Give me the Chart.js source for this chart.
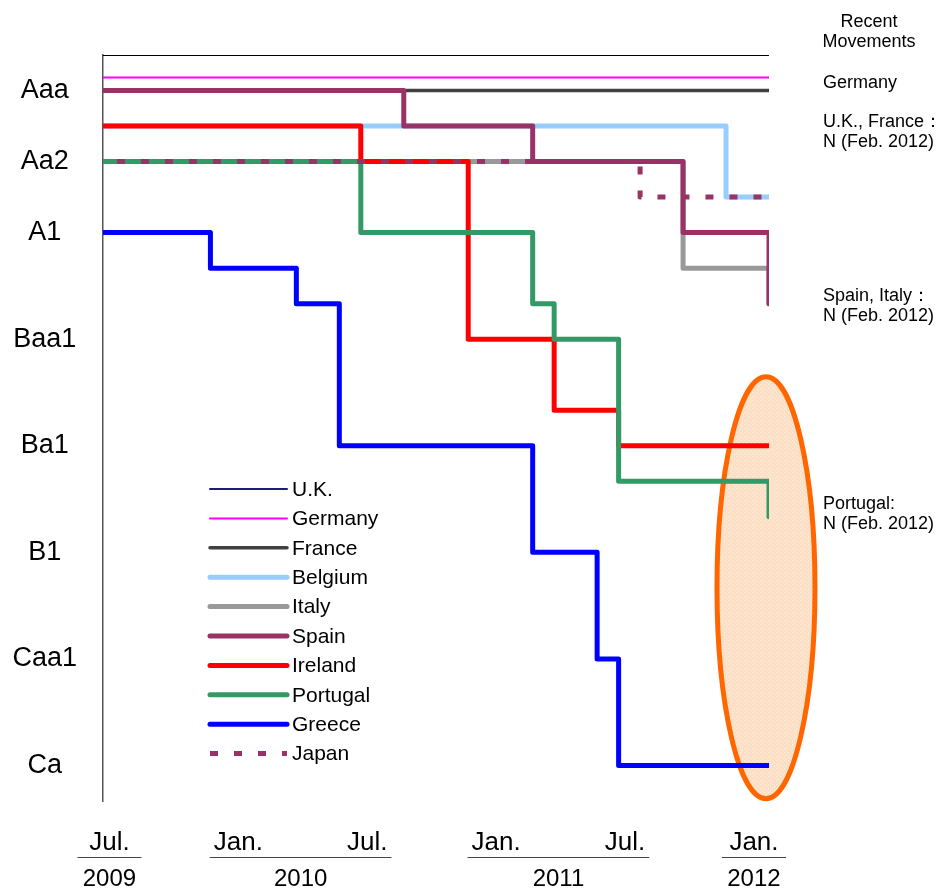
<!DOCTYPE html>
<html>
<head>
<meta charset="utf-8">
<title>Sovereign ratings (Moody's)</title>
<script src="https://cdn.jsdelivr.net/npm/chart.js@4.4.1/dist/chart.umd.min.js"></script>
<style>
  html, body { margin: 0; padding: 0; background: #fff; }
  #wrap { width: 939px; height: 889px; position: relative; }
  canvas { display: block; }
</style>
</head>
<body>
<div id="wrap"><canvas id="chart" width="939" height="889"></canvas></div>
<script>
// Moody's long-term rating scale, best to worst (notch 1 = Aaa)
const RATING_SCALE = ["Aaa","Aa1","Aa2","Aa3","A1","A2","A3","Baa1","Baa2","Baa3",
                      "Ba1","Ba2","Ba3","B1","B2","B3","Caa1","Caa2","Caa3","Ca","C"];

// Monthly observations, Jul. 2009 - Feb. 2012
const MONTHS = [
  "2009-07","2009-08","2009-09","2009-10","2009-11","2009-12",
  "2010-01","2010-02","2010-03","2010-04","2010-05","2010-06",
  "2010-07","2010-08","2010-09","2010-10","2010-11","2010-12",
  "2011-01","2011-02","2011-03","2011-04","2011-05","2011-06",
  "2011-07","2011-08","2011-09","2011-10","2011-11","2011-12",
  "2012-01","2012-02"
];

// Axis labels
const Y_TICK_RATINGS = ["Aaa","Aa2","A1","Baa1","Ba1","B1","Caa1","Ca"];
const X_TICK_MONTHS = ["2009-07","2010-01","2010-07","2011-01","2011-07","2012-01"];
const X_TICK_LABELS = ["Jul.","Jan.","Jul.","Jan.","Jul.","Jan."];

// Ratings by month (rows: 2009 H2 | 2010 | 2011 | 2012)
const UK = [
  "Aaa","Aaa","Aaa","Aaa","Aaa","Aaa",
  "Aaa","Aaa","Aaa","Aaa","Aaa","Aaa","Aaa","Aaa","Aaa","Aaa","Aaa","Aaa",
  "Aaa","Aaa","Aaa","Aaa","Aaa","Aaa","Aaa","Aaa","Aaa","Aaa","Aaa","Aaa",
  "Aaa","Aaa"
];
const GERMANY = [
  "Aaa","Aaa","Aaa","Aaa","Aaa","Aaa",
  "Aaa","Aaa","Aaa","Aaa","Aaa","Aaa","Aaa","Aaa","Aaa","Aaa","Aaa","Aaa",
  "Aaa","Aaa","Aaa","Aaa","Aaa","Aaa","Aaa","Aaa","Aaa","Aaa","Aaa","Aaa",
  "Aaa","Aaa"
];
const FRANCE = [
  "Aaa","Aaa","Aaa","Aaa","Aaa","Aaa",
  "Aaa","Aaa","Aaa","Aaa","Aaa","Aaa","Aaa","Aaa","Aaa","Aaa","Aaa","Aaa",
  "Aaa","Aaa","Aaa","Aaa","Aaa","Aaa","Aaa","Aaa","Aaa","Aaa","Aaa","Aaa",
  "Aaa","Aaa"
];
const BELGIUM = [
  "Aa1","Aa1","Aa1","Aa1","Aa1","Aa1",
  "Aa1","Aa1","Aa1","Aa1","Aa1","Aa1","Aa1","Aa1","Aa1","Aa1","Aa1","Aa1",
  "Aa1","Aa1","Aa1","Aa1","Aa1","Aa1","Aa1","Aa1","Aa1","Aa1","Aa1","Aa3",
  "Aa3","Aa3"
];
const ITALY = [
  "Aa2","Aa2","Aa2","Aa2","Aa2","Aa2",
  "Aa2","Aa2","Aa2","Aa2","Aa2","Aa2","Aa2","Aa2","Aa2","Aa2","Aa2","Aa2",
  "Aa2","Aa2","Aa2","Aa2","Aa2","Aa2","Aa2","Aa2","Aa2","A2","A2","A2",
  "A2","A3"
];
const SPAIN = [
  "Aaa","Aaa","Aaa","Aaa","Aaa","Aaa",
  "Aaa","Aaa","Aaa","Aaa","Aaa","Aaa","Aaa","Aaa","Aa1","Aa1","Aa1","Aa1",
  "Aa1","Aa1","Aa2","Aa2","Aa2","Aa2","Aa2","Aa2","Aa2","A1","A1","A1",
  "A1","A3"
];
const IRELAND = [
  "Aa1","Aa1","Aa1","Aa1","Aa1","Aa1",
  "Aa1","Aa1","Aa1","Aa1","Aa1","Aa1","Aa2","Aa2","Aa2","Aa2","Aa2","Baa1",
  "Baa1","Baa1","Baa1","Baa3","Baa3","Baa3","Ba1","Ba1","Ba1","Ba1","Ba1","Ba1",
  "Ba1","Ba1"
];
const PORTUGAL = [
  "Aa2","Aa2","Aa2","Aa2","Aa2","Aa2",
  "Aa2","Aa2","Aa2","Aa2","Aa2","Aa2","A1","A1","A1","A1","A1","A1",
  "A1","A1","A3","Baa1","Baa1","Baa1","Ba2","Ba2","Ba2","Ba2","Ba2","Ba2",
  "Ba2","Ba3"
];
const GREECE = [
  "A1","A1","A1","A1","A1","A2",
  "A2","A2","A2","A3","A3","Ba1","Ba1","Ba1","Ba1","Ba1","Ba1","Ba1",
  "Ba1","Ba1","B1","B1","B1","Caa1","Ca","Ca","Ca","Ca","Ca","Ca",
  "Ca","Ca"
];
const JAPAN = [
  "Aa2","Aa2","Aa2","Aa2","Aa2","Aa2",
  "Aa2","Aa2","Aa2","Aa2","Aa2","Aa2","Aa2","Aa2","Aa2","Aa2","Aa2","Aa2",
  "Aa2","Aa2","Aa2","Aa2","Aa2","Aa2","Aa2","Aa3","Aa3","Aa3","Aa3","Aa3",
  "Aa3","Aa3"
];

const notch = r => RATING_SCALE.indexOf(r) + 1;
const toPoints = arr => arr.map((r, i) => ({ x: i, y: notch(r) }));

const FONT = "'Liberation Sans', Arial, Helvetica, sans-serif";
Chart.defaults.font.family = FONT;
Chart.defaults.color = '#000';

// label a week into the month
const LABEL_SHIFT = 0.3;

function series(label, values, color, width, order, extra) {
  return Object.assign({
    label: label,
    data: toPoints(values),
    borderColor: color,
    backgroundColor: color,
    borderWidth: width,
    stepped: true,
    pointRadius: 0,
    pointHoverRadius: 0,
    fill: false,
    borderCapStyle: 'round',
    borderJoinStyle: 'round',
    order: order
  }, extra || {});
}

const datasets = [
  series("U.K.",     UK,       '#1c1c7c', 2,   10),
  series("Germany",  GERMANY,  '#ff00ff', 2,    1),
  series("France",   FRANCE,   '#404040', 3.5,  9),
  series("Belgium",  BELGIUM,  '#99ccff', 5,    7),
  series("Italy",    ITALY,    '#999999', 5,    8),
  series("Spain",    SPAIN,    '#993366', 5,    2),
  series("Ireland",  IRELAND,  '#ff0000', 5,    6),
  series("Portugal", PORTUGAL, '#339966', 5,    5),
  series("Greece",   GREECE,   '#0000ff', 5,    4),
  series("Japan",    JAPAN,    '#993366', 5,    3,
         { borderDash: [8, 16], borderDashOffset: 10, borderCapStyle: 'butt' })
];

// Lines sharing a rating can be nudged vertically so they stay visible
const lineOffset = {
  id: 'lineOffset',
  beforeDatasetDraw(chart, args, opts) {
    const dy = (opts.shifts || {})[chart.data.datasets[args.index].label];
    if (dy) { chart.ctx.save(); chart.ctx.translate(0, dy); }
  },
  afterDatasetDraw(chart, args, opts) {
    const dy = (opts.shifts || {})[chart.data.datasets[args.index].label];
    if (dy) chart.ctx.restore();
  }
};

// Highlight ellipse around the latest ratings
function dotTexture(ctx) {
  const c = document.createElement('canvas');
  c.width = 4; c.height = 4;
  const g = c.getContext('2d');
  g.fillStyle = 'rgba(255,255,255,0.55)';
  g.fillRect(0, 0, 1, 1);
  g.fillRect(2, 2, 1, 1);
  return ctx.createPattern(c, 'repeat');
}
const highlight = {
  id: 'highlight',
  beforeDatasetsDraw(chart, args, o) {
    const { ctx, scales: { x, y } } = chart;
    const cx = x.getPixelForValue(o.centerMonth);
    const cy = y.getPixelForValue(o.centerNotch);
    ctx.save();
    ctx.beginPath();
    ctx.ellipse(cx, cy, o.rx, o.ry, 0, 0, Math.PI * 2);
    ctx.fillStyle = o.fill;
    ctx.fill();
    ctx.fillStyle = dotTexture(ctx);
    ctx.fill();
    ctx.lineWidth = o.lineWidth;
    ctx.strokeStyle = o.color;
    ctx.stroke();
    ctx.restore();
  }
};

// Frame top rule
const frame = {
  id: 'frame',
  beforeDatasetsDraw(chart) {
    const { ctx, chartArea: a } = chart;
    ctx.save();
    ctx.strokeStyle = '#000';
    ctx.lineWidth = 1;
    ctx.beginPath();
    ctx.moveTo(a.left, a.top + 0.5);
    ctx.lineTo(a.right, a.top + 0.5);
    ctx.stroke();
    ctx.restore();
  }
};

// Year rules and year labels under the month labels
const yearRow = {
  id: 'yearRow',
  afterDraw(chart, args, o) {
    const { ctx, scales: { x } } = chart;
    ctx.save();
    ctx.font = '26px ' + FONT;
    const groups = [];
    X_TICK_MONTHS.forEach((m, i) => {
      const year = m.slice(0, 4);
      const px = x.getPixelForValue(MONTHS.indexOf(m) + LABEL_SHIFT);
      const w = ctx.measureText(X_TICK_LABELS[i]).width;
      let g = groups.find(gr => gr.year === year);
      if (!g) { g = { year, l: Infinity, r: -Infinity }; groups.push(g); }
      g.l = Math.min(g.l, px - w / 2);
      g.r = Math.max(g.r, px + w / 2);
    });
    groups.forEach(g => {
      let l = g.l - 4, r = g.r + 4;
      if (r - l < o.minRule) { const c = (l + r) / 2; l = c - o.minRule / 2; r = c + o.minRule / 2; }
      ctx.strokeStyle = '#444';
      ctx.lineWidth = 1;
      ctx.beginPath();
      ctx.moveTo(l, o.ruleY);
      ctx.lineTo(r, o.ruleY);
      ctx.stroke();
      ctx.font = '24px ' + FONT;
      ctx.fillStyle = '#000';
      ctx.textAlign = 'center';
      ctx.textBaseline = 'alphabetic';
      ctx.fillText(g.year, (l + r) / 2, o.yearBaseline);
    });
    ctx.restore();
  }
};

// Legend box inside the plot
const seriesKey = {
  id: 'seriesKey',
  afterDraw(chart, args, o) {
    const ctx = chart.ctx;
    ctx.save();
    chart.data.datasets.forEach((ds, i) => {
      const y = o.top + i * o.rowGap;
      ctx.beginPath();
      ctx.strokeStyle = ds.borderColor;
      ctx.lineWidth = ds.borderWidth;
      ctx.lineCap = ds.borderCapStyle;
      ctx.setLineDash(ds.borderDash || []);
      ctx.lineDashOffset = 0;
      ctx.moveTo(o.left, y);
      ctx.lineTo(o.left + o.sample, y);
      ctx.stroke();
      ctx.setLineDash([]);
      ctx.font = o.fontSize + 'px ' + FONT;
      ctx.fillStyle = '#000';
      ctx.textAlign = 'left';
      ctx.textBaseline = 'middle';
      ctx.fillText(ds.label, o.left + o.sample + 5, y + 1);
    });
    ctx.restore();
  }
};

// Notes on the latest outlook changes, right of the plot
const notes = {
  id: 'notes',
  afterDraw(chart, args, o) {
    const ctx = chart.ctx;
    ctx.save();
    ctx.font = o.fontSize + 'px ' + FONT;
    ctx.fillStyle = '#000';
    ctx.textBaseline = 'alphabetic';
    o.items.forEach(it => {
      ctx.textAlign = it.align || 'left';
      it.lines.forEach((t, k) => ctx.fillText(t, it.x, it.y + k * o.lineGap));
    });
    ctx.restore();
  }
};

new Chart(document.getElementById('chart'), {
  type: 'line',
  data: { datasets },
  plugins: [lineOffset, highlight, frame, yearRow, seriesKey, notes],
  options: {
    responsive: false,
    animation: false,
    devicePixelRatio: 1,
    layout: { padding: { top: 55, right: 170, left: 0, bottom: 0 } },
    scales: {
      x: {
        type: 'linear',
        min: 0,
        max: MONTHS.length - 1,
        grid: { display: false, drawTicks: false },
        border: { display: false },
        afterBuildTicks: s => { s.ticks = X_TICK_MONTHS.map(m => ({ value: MONTHS.indexOf(m) + LABEL_SHIFT })); },
        afterFit: s => { s.height = 88; },
        ticks: {
          autoSkip: false, maxRotation: 0, minRotation: 0, padding: 26,
          color: '#000', font: { size: 26 },
          callback: (v, i) => X_TICK_LABELS[i]
        }
      },
      y: {
        type: 'linear',
        reverse: true,
        min: 0,
        max: RATING_SCALE.length,
        grid: { display: false, drawTicks: false },
        border: { display: true, color: '#555', width: 1.5 },
        afterBuildTicks: s => { s.ticks = Y_TICK_RATINGS.map(r => ({ value: notch(r) })); },
        afterFit: s => { s.width = 103; },
        ticks: {
          autoSkip: false, crossAlign: 'center', padding: 26,
          color: '#000', font: { size: 27 },
          callback: v => RATING_SCALE[Math.round(v) - 1]
        }
      }
    },
    plugins: {
      legend: { display: false },
      tooltip: { enabled: false },
      lineOffset: { shifts: { "Germany": -13 } },
      highlight: { centerMonth: 30.86, centerNotch: 15, rx: 49, ry: 211, lineWidth: 5,
                   color: '#ff6600', fill: '#fcdfc4' },
      yearRow: { ruleY: 857.5, yearBaseline: 886, minRule: 64 },
      seriesKey: { left: 210, top: 489, rowGap: 29.4, sample: 77, fontSize: 21 },
      notes: {
        fontSize: 18,
        lineGap: 20,
        items: [
          { x: 869, y: 27,  lines: ["Recent", "Movements"], align: 'center' },
          { x: 823, y: 88,  lines: ["Germany"] },
          { x: 823, y: 127, lines: ["U.K., France\uFF1A", "N (Feb. 2012)"] },
          { x: 823, y: 301, lines: ["Spain, Italy\uFF1A", "N (Feb. 2012)"] },
          { x: 823, y: 509, lines: ["Portugal:", "N (Feb. 2012)"] }
        ]
      }
    }
  }
});
</script>
</body>
</html>
